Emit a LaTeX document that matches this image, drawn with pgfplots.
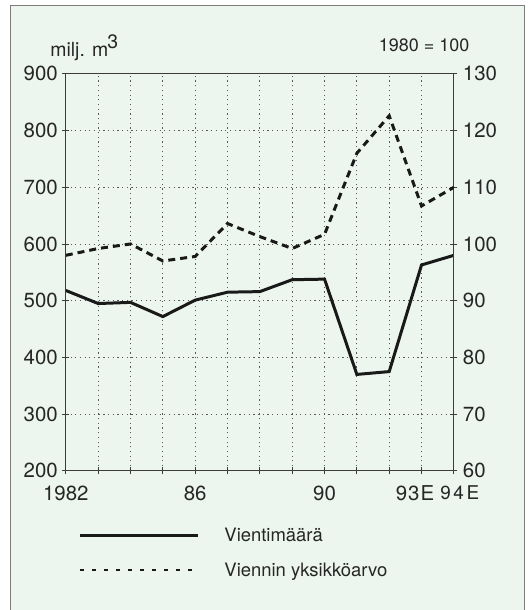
\documentclass[border=0pt]{standalone}
\usepackage{fontspec}
\setmainfont{TeX Gyre Heros}
\usepackage{pgfplots}
\pgfplotsset{compat=1.18}
\definecolor{bgmint}{RGB}{236,246,238}
\definecolor{framegray}{RGB}{125,125,125}
\definecolor{axgray}{RGB}{60,60,60}
\pgfplotsset{
  longsolid/.style={legend image code/.code={\draw[##1] (0pt,0pt) -- (118pt,0pt);}},
  longdash/.style={legend image code/.code={\draw[##1] (0pt,0pt) -- (112pt,0pt);}},
}
\begin{document}
\begin{tikzpicture}[x=1pt,y=1pt]
\fill[white] (0,0) rectangle (533,610);
\fill[bgmint] (11,-1) rectangle (526,604);
\draw[framegray, line width=1pt] (11,-1) -- (11,604) -- (526,604) -- (526,-1);
\path[use as bounding box] (0,0) rectangle (533,610);
\pgfplotsset{
  common/.style={
    at={(66pt,138pt)}, anchor=south west, scale only axis,
    width=389pt, height=398pt,
    xmin=1982, xmax=1994,
    tick align=center, major tick length=7pt,
    axis line style={line width=0.9pt, axgray},
    tick style={line width=0.9pt, axgray},
    tick label style={font=\fontsize{20.5}{20.5}\selectfont, text=black!85},
    /pgf/number format/assume math mode=true,
    /pgf/number format/1000 sep={},
  }
}
\begin{axis}[common,
  ymin=200, ymax=900, ytick={200,300,...,900},
  xtick={1982,...,1994},
  xticklabels={1982,,,,86,,,,90,,,{\hspace*{-13pt}9\kern1pt3\kern1pt E},{\hspace*{12pt}\fontsize{19}{19}\selectfont 9\kern2.5pt4\kern2.5pt E}},
  xtick pos=bottom, ytick pos=left,
  grid=major,
  grid style={line width=0.8pt, black!65, dash pattern=on 1.2pt off 3.5pt},
  yticklabel style={xshift=-1pt},
  xticklabel style={yshift=-8pt},
]
\addplot[line width=3pt, black!90] coordinates {
 (1982,518) (1983,495) (1984,497) (1985,472) (1986,501) (1987,515) (1988,516)
 (1989,537) (1990,538) (1991,370) (1992,375) (1993,563) (1994,580)};
\end{axis}
\begin{axis}[common,
  ymin=60, ymax=130, ytick={60,70,...,130},
  axis y line*=right, axis x line=none,
  yticklabel style={xshift=2pt},
  legend style={at={(axis description cs:0.0334,-0.206)}, anchor=west,
    draw=none, fill=none, inner sep=0pt, outer sep=0pt,
    nodes={inner sep=0pt, font=\fontsize{18.5}{18.5}\selectfont, text=black!85},
    column sep=25pt, row sep=20pt},
  legend cell align=left,
]
\addlegendimage{line width=3pt, black!90, longsolid}
\addlegendentry{Vientimäärä}
\addlegendimage{line width=2pt, black!90, dash pattern=on 3.5pt off 8.5pt, longdash}
\addlegendentry{Viennin yksikköarvo}
\addplot[forget plot, line width=3pt, black!90, dash pattern=on 7pt off 5pt] coordinates {
 (1982,98) (1983,99.2) (1984,100) (1985,97) (1986,97.8) (1987,103.6) (1988,101.3)
 (1989,99.2) (1990,101.7) (1991,116) (1992,122.6) (1993,106.7) (1994,110)};
\end{axis}
\node[anchor=base west, font=\fontsize{19.5}{19.5}\selectfont, text=black!85] at (47,553)
  {milj. m\kern-1pt\raisebox{8pt}{3}};
\node[anchor=base east, font=\fontsize{18}{18}\selectfont, text=black!85] at (474,558)
  {1980 = 100};
\end{tikzpicture}
\end{document}
